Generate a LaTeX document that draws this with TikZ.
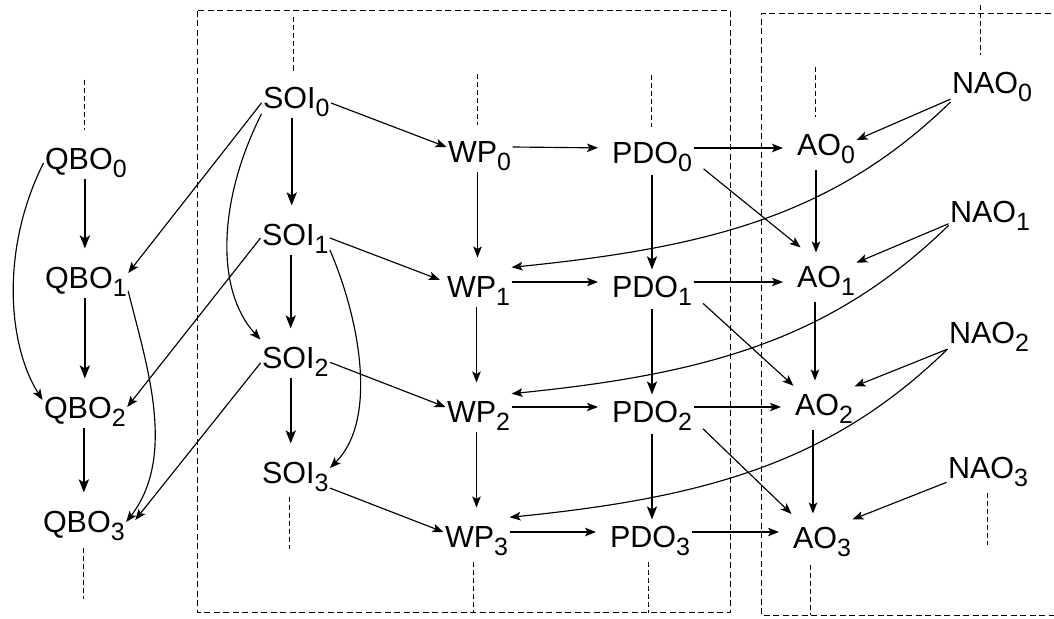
\documentclass[tikz,border=0pt]{standalone}
\usepackage{fontspec}
\setmainfont{Liberation Sans}
\usetikzlibrary{arrows.meta}
\newcommand{\lo}[1]{\raisebox{-8.5pt}{\fontsize{25}{25}\selectfont #1}}
\begin{document}
\begin{tikzpicture}[x=1pt,y=-1pt,
  v/.style={font=\fontsize{30.5}{36}\selectfont, inner sep=1.5pt, outer sep=0pt,
            text height=38pt, text depth=8pt, anchor=base west},
  arr/.style={-{Stealth[length=11pt,width=8.5pt,inset=2.5pt]}, line width=1.15pt},
  tarr/.style={-{Stealth[length=13pt,width=10pt,inset=3pt]}, line width=2.4pt},
  boxline/.style={dash pattern=on 6pt off 3.5pt, line width=1pt},
  stub/.style={dash pattern=on 5pt off 3pt, line width=1pt}]
\useasboundingbox (0,0) rectangle (1054,618);

% nodes
\node[v] (QBO0) at (43.5,169) {QBO\lo{0}};
\node[v] (QBO1) at (43.5,288) {QBO\lo{1}};
\node[v] (QBO2) at (42.5,418) {QBO\lo{2}};
\node[v] (QBO3) at (41.5,532) {QBO\lo{3}};
\node[v] (SOI0) at (261.5,108) {SOI\lo{0}};
\node[v] (SOI1) at (260.5,245) {SOI\lo{1}};
\node[v] (SOI2) at (260.5,368) {SOI\lo{2}};
\node[v] (SOI3) at (260.5,483) {SOI\lo{3}};
\node[v] (WP0) at (446.5,162) {WP\lo{0}};
\node[v] (WP1) at (445.5,297) {WP\lo{1}};
\node[v] (WP2) at (445.5,422) {WP\lo{2}};
\node[v] (WP3) at (443.5,547) {WP\lo{3}};
\node[v] (PDO0) at (610.5,163) {PDO\lo{0}};
\node[v] (PDO1) at (610.5,297) {PDO\lo{1}};
\node[v] (PDO2) at (610.5,422) {PDO\lo{2}};
\node[v] (PDO3) at (608.5,547) {PDO\lo{3}};
\node[v] (AO0) at (795.5,155) {AO\lo{0}};
\node[v] (AO1) at (795.5,287) {AO\lo{1}};
\node[v] (AO2) at (793.5,415) {AO\lo{2}};
\node[v] (AO3) at (791.5,548) {AO\lo{3}};
\node[v] (NAO0) at (950.5,93) {NAO\lo{0}};
\node[v] (NAO1) at (948.5,222) {NAO\lo{1}};
\node[v] (NAO2) at (947.5,343) {NAO\lo{2}};
\node[v] (NAO3) at (946.5,478) {NAO\lo{3}};

% dashed frames
\draw[boxline] (197,11) rectangle (730,612);
\draw[boxline] (1060,14) -- (761,14) -- (761,615) -- (1060,615);

% dashed stubs
\coordinate (tQBO0) at ([shift={(-1,-50)}]QBO0.north);
\draw[stub] (tQBO0) -- ([xshift=-1pt]QBO0.north);
\coordinate (bQBO3) at ([shift={(0,57)}]QBO3.south);
\draw[stub] ([shift={(0,6)}]QBO3.south) -- (bQBO3);
\coordinate (tSOI0) at ([shift={(-3,-51)}]SOI0.north);
\draw[stub] (tSOI0) -- ([shift={(-3,3)}]SOI0.north);
\coordinate (bSOI3) at ([shift={(-6,56)}]SOI3.south);
\draw[stub] ([shift={(-6,4)}]SOI3.south) -- (bSOI3);
\coordinate (tWP0) at ([shift={(-2.5,-48.5)}]WP0.north);
\draw[stub] (tWP0) -- ([shift={(-2.5,2.5)}]WP0.north);
\coordinate (bWP3) at ([shift={(-3.5,56.5)}]WP3.south);
\draw[stub] ([shift={(-3.5,5.5)}]WP3.south) -- (bWP3);
\coordinate (tPDO0) at ([shift={(-1,-48.5)}]PDO0.north);
\draw[stub] (tPDO0) -- ([shift={(-1,3.5)}]PDO0.north);
\coordinate (bPDO3) at ([shift={(-2,56.5)}]PDO3.south);
\draw[stub] ([shift={(-2,5.5)}]PDO3.south) -- (bPDO3);
\coordinate (tAO0) at ([shift={(-10,-48.5)}]AO0.north);
\draw[stub] (tAO0) -- ([shift={(-10,1.5)}]AO0.north);
\coordinate (bAO3) at ([shift={(-11,57.5)}]AO3.south);
\draw[stub] ([shift={(-11,7.5)}]AO3.south) -- (bAO3);
\coordinate (tNAO0) at ([shift={(-12,-48.5)}]NAO0.north);
\draw[stub] (tNAO0) -- ([shift={(-12,1.5)}]NAO0.north);
\coordinate (bNAO3) at ([shift={(-1,57.5)}]NAO3.south);
\draw[stub] ([shift={(-1,5.5)}]NAO3.south) -- (bNAO3);

% QBO chain
\draw[tarr] ([xshift=-1pt]QBO0.south) -- ([xshift=-1pt]QBO0.south |- QBO1.north);
\draw[tarr] ([xshift=-1pt]QBO1.south) -- ([xshift=-1pt]QBO1.south |- QBO2.north);
\draw[tarr] ([xshift=-1pt]QBO2.south) -- ([xshift=-1pt]QBO2.south |- QBO3.north);
\draw[arr] ([shift={(0,9)}]QBO0.west) .. controls (0,250) and (8,345) .. ([shift={(0,-3)}]QBO2.west);
\draw[arr] (QBO1.-23) .. controls (145,360) and (178,455) .. ([shift={(0,5)}]QBO3.east);

% SOI chain
\draw[tarr] ([xshift=-4.5pt]SOI0.south) -- ([xshift=-4.5pt]SOI0.south |- SOI1.north);
\draw[tarr] ([xshift=-4.5pt]SOI1.south) -- ([xshift=-4.5pt]SOI1.south |- SOI2.north);
\draw[tarr] ([xshift=-4.5pt]SOI2.south) -- ([xshift=-4.5pt]SOI2.south |- SOI3.north);
\draw[arr] (SOI0.211) .. controls (218,200) and (215,290) .. (SOI2.159);
\draw[arr] (SOI1.-30) .. controls (360,320) and (378,420) .. (SOI3.east);
\draw[arr] (SOI0.196) -- (QBO1.east);
\draw[arr] (SOI1.193) -- ([shift={(0,4)}]QBO2.east);
\draw[arr] (SOI2.196) -- ([shift={(9,3)}]QBO3.east);
\draw[arr] (SOI0.-16) -- (WP0.west);
\draw[arr, shorten >=6pt] (SOI1.-13) -- (WP1.west);
\draw[arr] (SOI2.-15) -- (WP2.west);
\draw[arr] (SOI3.-30) -- (WP3.west);

% WP chain
\draw[arr] ([xshift=-2pt]WP0.south) -- ([xshift=-2pt]WP0.south |- WP1.north);
\draw[arr] ([xshift=-2pt]WP1.south) -- ([xshift=-2pt]WP1.south |- WP2.north);
\draw[arr] ([xshift=-2pt]WP2.south) -- ([xshift=-2pt]WP2.south |- WP3.north);
\draw[arr, shorten >=12.5pt] (WP0.east) -- (PDO0.west);
\draw[arr, shorten >=12.5pt] (WP1.east) -- (PDO1.west);
\draw[arr, shorten >=12.5pt] (WP2.east) -- (PDO2.west);
\draw[arr, shorten >=12.5pt] (WP3.east) -- (PDO3.west);

% PDO chain
\draw[tarr, shorten <=2pt, shorten >=-12pt] (PDO0.south) -- (PDO0.south |- PDO1.north);
\draw[tarr, shorten <=2pt, shorten >=-12pt] (PDO1.south) -- (PDO1.south |- PDO2.north);
\draw[tarr, shorten <=2pt, shorten >=-12pt] (PDO2.south) -- (PDO2.south |- PDO3.north);
\draw[arr, shorten >=12.5pt] (PDO0.east) -- (PDO0.east -| AO0.west);
\draw[arr, shorten >=12.5pt] (PDO1.east) -- (PDO1.east -| AO1.west);
\draw[arr, shorten >=12.5pt] (PDO2.east) -- (PDO2.east -| AO2.west);
\draw[arr, shorten >=12.5pt] (PDO3.east) -- (PDO3.east -| AO3.west);
\draw[arr, shorten <=13pt] (PDO0.-17) -- (AO1.136);
\draw[arr, shorten <=13pt] (PDO1.-17) -- (AO2.155);
\draw[arr, shorten <=13pt] (PDO2.-17) -- (AO3.148);

% AO chain
\draw[arr, shorten <=5pt, shorten >=-5pt] ([xshift=-10pt]AO0.south) -- ([xshift=-10pt]AO0.south |- AO1.north);
\draw[arr, shorten <=5pt, shorten >=-5pt] ([xshift=-11pt]AO1.south) -- ([xshift=-11pt]AO1.south |- AO2.north);
\draw[arr, shorten <=5pt, shorten >=-5pt] ([xshift=-11pt]AO2.south) -- ([xshift=-11pt]AO2.south |- AO3.north);

% NAO
\draw[arr] (NAO0.207) -- (AO0.east);
\draw[arr] (NAO1.202) -- (AO1.17);
\draw[arr] (NAO2.207) -- (AO2.24);
\draw[arr] (NAO3.205) -- (AO3.24);
\draw[arr] (NAO0.210) .. controls +(-115,112) and +(200,-20) .. (WP1.24);
\draw[arr] (NAO1.204) .. controls +(-115,112) and +(200,-20) .. (WP2.22);
\draw[arr] (NAO2.207) .. controls +(-115,112) and +(200,-20) .. (WP3.24);
\end{tikzpicture}
\end{document}
